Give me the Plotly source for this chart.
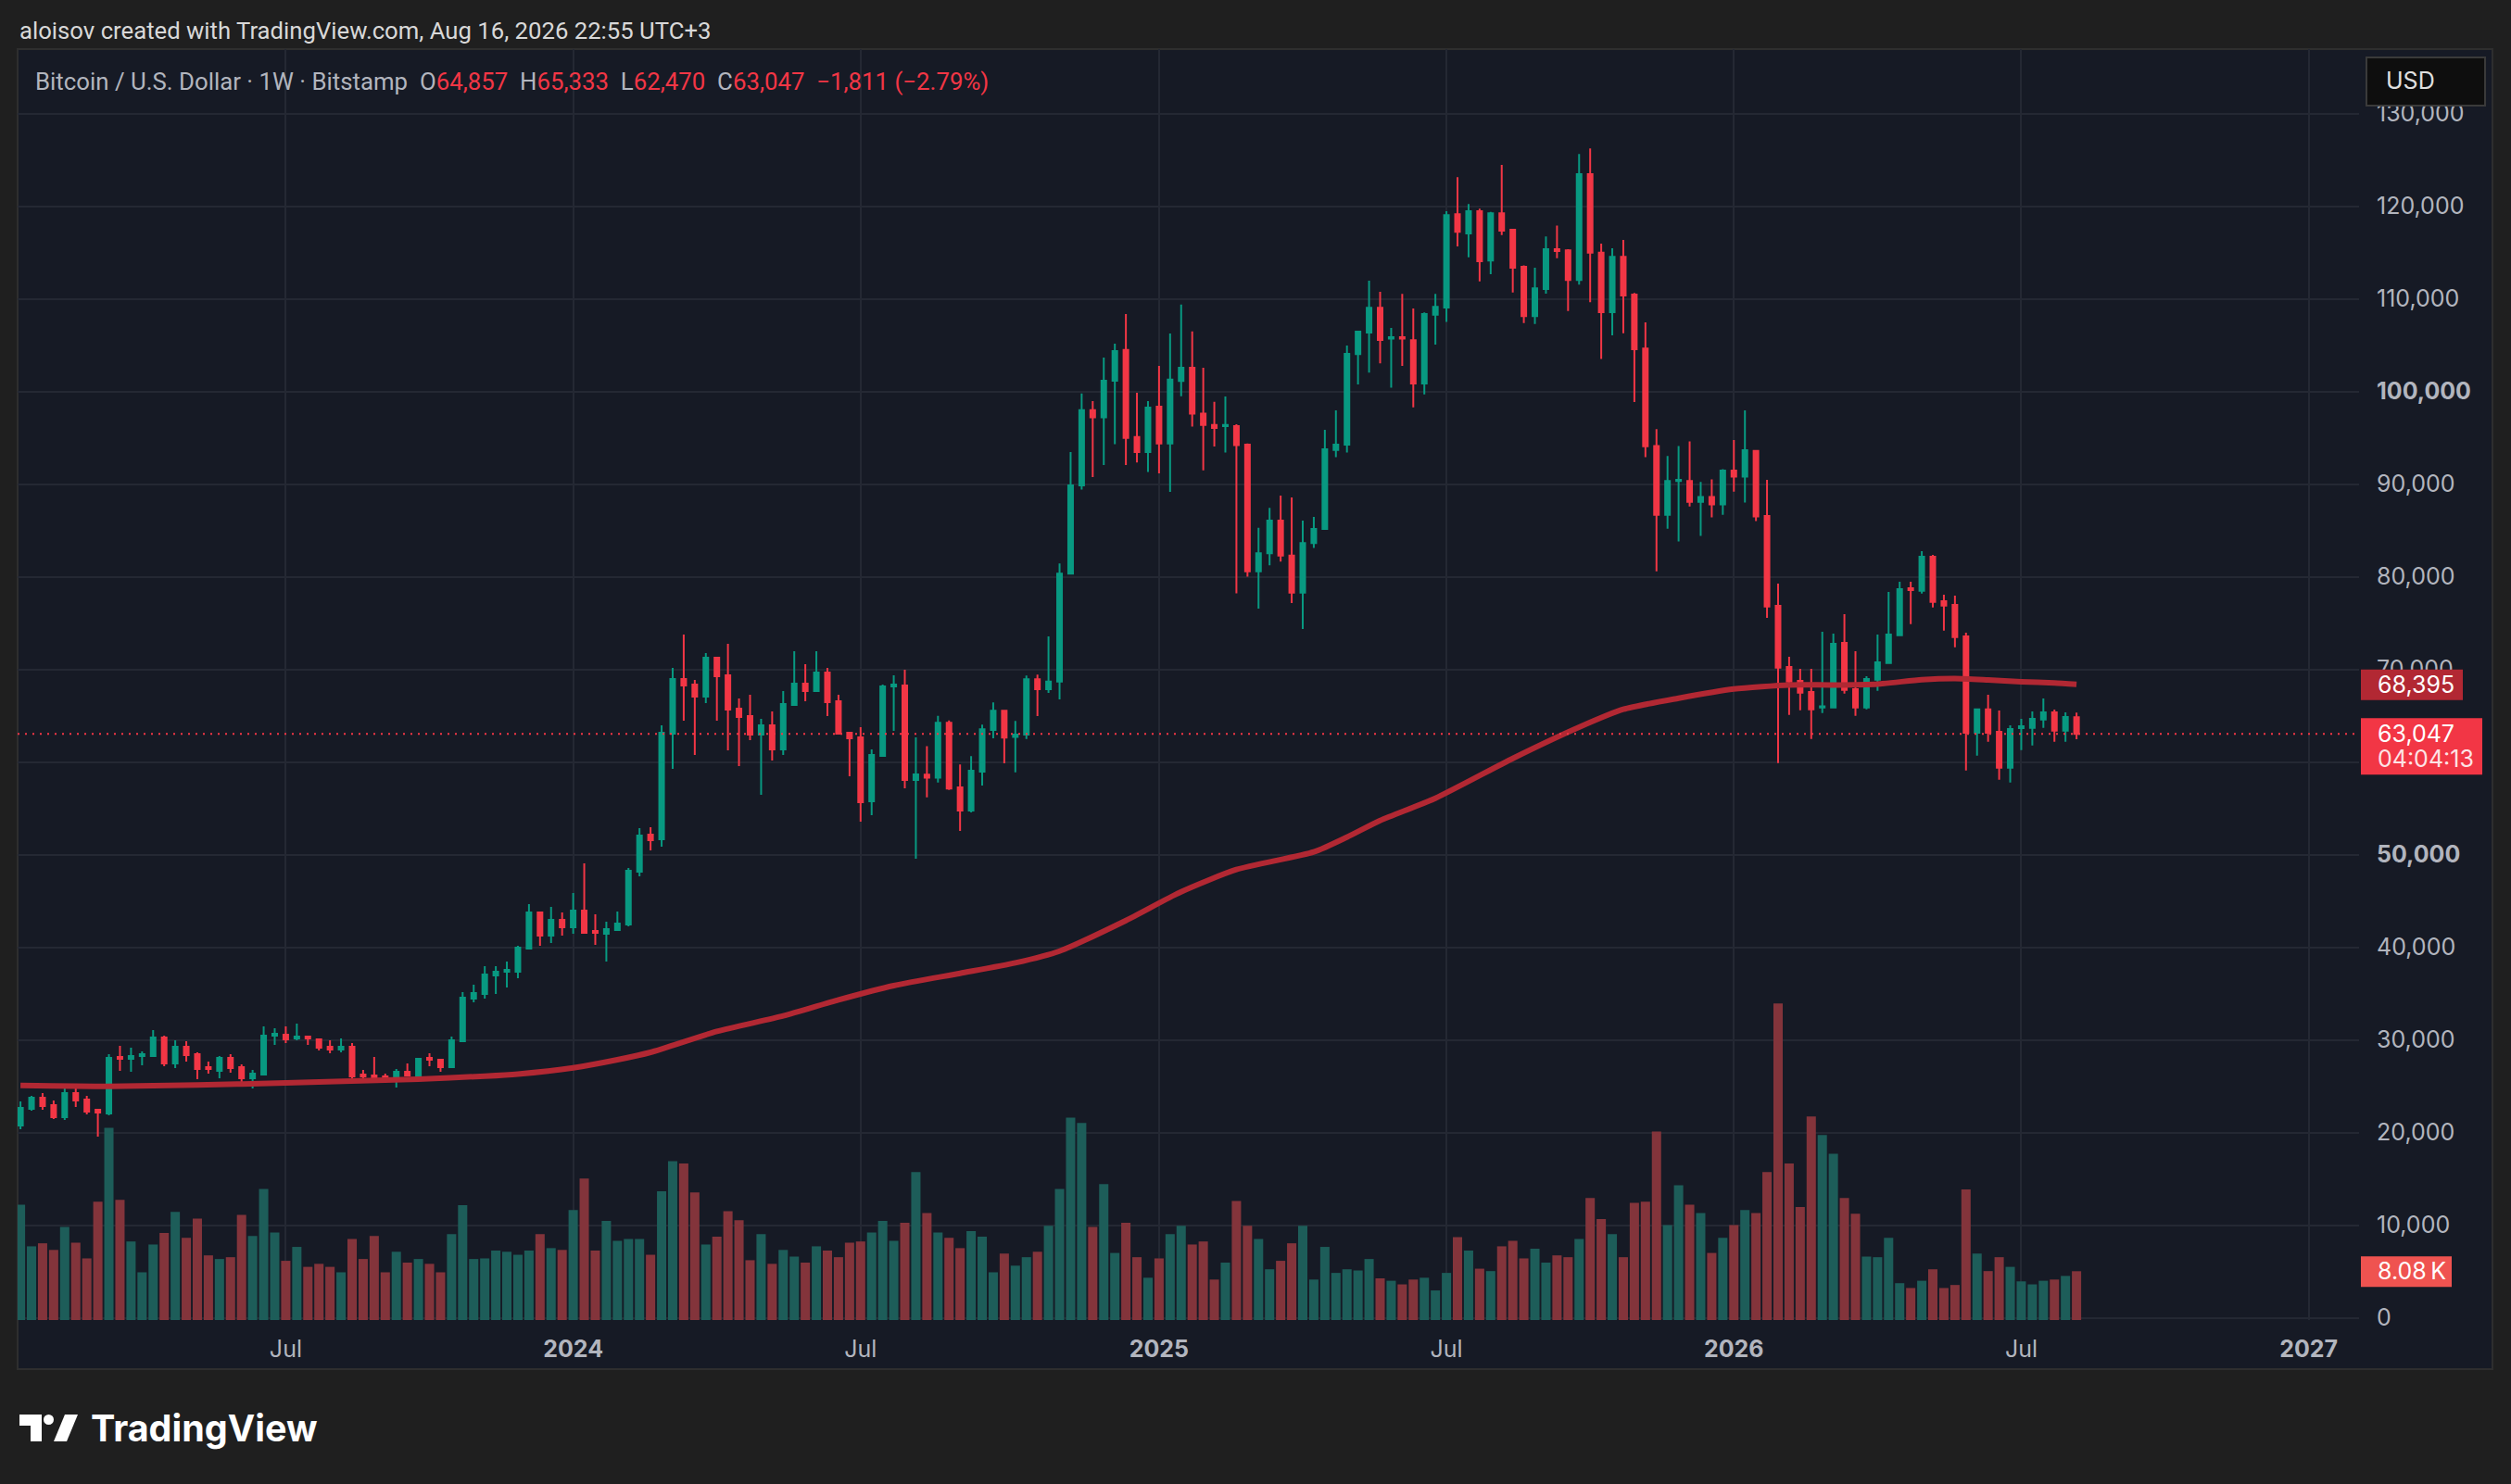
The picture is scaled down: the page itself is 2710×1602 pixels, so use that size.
import pandas as pd
import plotly.graph_objects as go

# Bitcoin / U.S. Dollar, weekly bars (Bitstamp), first bar = week of 2023-01-16
first_week = "2023-01-16"

opens = [
    20770, 22570, 23770, 22970, 21670, 24270, 23570, 22470, 22070, 28170,
    27970, 28270, 28270, 30270, 27470, 29270, 28470, 27070, 26670, 28070,
    27070, 25870, 26270, 30470, 30570, 30170, 30370, 30070, 29270, 28970,
    29270, 26270, 26170, 26070, 25770, 26570, 26070, 28070, 27870, 27070,
    29870, 34470, 34970, 36970, 37370, 37370, 39870, 43770, 41270, 42970,
    42170, 43970, 41770, 41470, 41870, 42470, 48170, 52170, 51670, 63070,
    68970, 68370, 67070, 71270, 69370, 65770, 64970, 62970, 63970, 61370,
    66170, 68470, 67670, 69670, 66570, 63170, 62670, 55770, 60670, 68170,
    68270, 58070, 58650, 58330, 64250, 57260, 54770, 58980, 63470, 65550,
    62730, 62980, 68950, 67880, 68700, 80340, 89860, 97990, 97210, 101180,
    104490, 95090, 93460, 98360, 94400, 101140, 102570, 97620, 96400, 96270,
    96270, 94270, 80590, 82550, 86060, 82300, 78300, 83650, 85160, 93700,
    94270, 104050, 106370, 109040, 105720, 105870, 105550, 100870, 108300, 109080,
    119140, 117070, 119460, 114150, 119250, 117470, 113470, 108150, 111080, 115360,
    115250, 112040, 123460, 115000, 108580, 114540, 110470, 104650, 94130, 86700,
    90340, 90340, 88100, 88630, 87810, 91480, 90810, 93590, 86570, 76870,
    70270, 68770, 67570, 65900, 65900, 72870, 67870, 65900, 68900, 70700,
    73700, 78770, 78500, 82170, 77370, 76970, 73570, 63170, 65700, 63270,
    59400, 63670, 63700, 64600, 65370, 63400, 64857,
]
highs = [
    23370, 23970, 24270, 23470, 25270, 25270, 23970, 22570, 28470, 29370,
    29170, 28770, 31070, 30470, 29970, 29870, 28670, 27670, 28270, 28470,
    27370, 26770, 31470, 31270, 31470, 31770, 30370, 30070, 29970, 30170,
    29670, 26770, 28170, 26370, 26870, 27470, 28070, 28570, 27970, 30370,
    35170, 35970, 37970, 37970, 38470, 40170, 44670, 43770, 44370, 43770,
    45870, 49070, 43570, 42770, 43870, 48570, 52870, 52970, 63970, 70170,
    73770, 68870, 71770, 71270, 72770, 66870, 67270, 64670, 65470, 67670,
    71970, 70570, 71970, 70170, 67270, 63270, 63770, 61370, 68370, 69370,
    69970, 62670, 61710, 65000, 64500, 59750, 60650, 64040, 66450, 65600,
    64450, 69350, 69440, 73560, 81450, 93460, 99790, 98970, 103670, 105180,
    108370, 99870, 98970, 102770, 106280, 109390, 106490, 102570, 98890, 99460,
    96480, 94400, 85290, 87450, 88760, 88560, 86060, 86470, 95870, 97980,
    104980, 106550, 111970, 110760, 106870, 110540, 108970, 108540, 110540, 119460,
    123140, 120250, 119750, 119400, 124460, 117540, 113610, 113360, 116750, 117930,
    115360, 125640, 126250, 115970, 115470, 116360, 110650, 107470, 95950, 93050,
    94130, 94630, 90240, 90520, 91630, 94770, 97980, 93590, 90470, 79270,
    71370, 70070, 70070, 74070, 73870, 75970, 71970, 69270, 73770, 78370,
    79470, 79470, 82770, 82370, 78070, 77970, 73970, 65800, 67270, 65570,
    63970, 64670, 65470, 66870, 65670, 65370, 65333,
]
lows = [
    20370, 22370, 22470, 21470, 21370, 22770, 21970, 19570, 21870, 26670,
    26570, 27270, 28170, 27170, 26970, 27670, 25770, 26370, 25870, 26470,
    25370, 24770, 26270, 29470, 29670, 29970, 29470, 28870, 28570, 28670,
    25570, 25370, 25370, 25370, 24870, 26170, 25970, 27170, 26570, 27070,
    29870, 34070, 34470, 34970, 35670, 36670, 39870, 40170, 40470, 41270,
    41470, 41470, 40270, 38470, 41770, 42270, 47670, 50470, 50870, 59270,
    64470, 60770, 66370, 64470, 61270, 59570, 62370, 56470, 60170, 60770,
    66070, 66570, 67570, 64970, 62970, 58470, 53570, 54270, 60670, 63370,
    57170, 49570, 56200, 57800, 57000, 52570, 54570, 57470, 62570, 59880,
    58900, 62490, 64980, 67480, 66780, 80340, 89410, 90760, 92070, 94310,
    92070, 92350, 91330, 91170, 89170, 99500, 96230, 91500, 94070, 93410,
    78220, 80020, 76580, 81240, 81650, 77160, 74380, 83120, 85160, 92930,
    93410, 100760, 102050, 103050, 100410, 102760, 98300, 99690, 105080, 107510,
    115680, 114500, 111900, 112680, 116900, 110690, 107400, 107290, 110580, 114400,
    108690, 111540, 109650, 103510, 106080, 106300, 98870, 92910, 80600, 85200,
    83810, 87600, 84420, 86420, 86700, 89200, 88020, 86020, 75570, 59900,
    65100, 65600, 62500, 65300, 65900, 67400, 65000, 65700, 67700, 70600,
    73700, 74900, 78200, 76700, 74200, 72400, 59100, 60700, 62200, 58100,
    57800, 61300, 61800, 63700, 62200, 62200, 62470,
]
closes = [
    22670, 23770, 22870, 21670, 24270, 23470, 22270, 22170, 28070, 27970,
    28270, 28470, 30270, 27470, 29270, 28370, 26870, 26870, 28070, 26970,
    25870, 26370, 30470, 30670, 30070, 30370, 30170, 29170, 28970, 29270,
    26070, 26070, 25970, 25940, 26570, 26170, 27970, 27870, 27070, 29970,
    34570, 35070, 37070, 37370, 37570, 39970, 43770, 41270, 42970, 42170,
    43970, 41570, 41570, 41970, 42570, 48270, 52070, 51570, 63170, 68970,
    68270, 67070, 71270, 69270, 65670, 64870, 62970, 63970, 61370, 66270,
    68470, 67670, 69670, 66470, 63070, 62570, 55670, 60770, 68170, 68370,
    58070, 58670, 58330, 64250, 57140, 54770, 59060, 63550, 65550, 62650,
    62980, 68950, 67880, 68700, 80340, 89860, 97990, 97210, 101180, 104360,
    95000, 93460, 98280, 94400, 101300, 102570, 97620, 96400, 96070, 96400,
    94230, 80590, 82550, 86060, 82300, 78300, 83650, 85160, 93780, 94270,
    104080, 106470, 109040, 105580, 105870, 105720, 100870, 108360, 109150, 119040,
    117250, 119460, 114080, 119250, 117360, 113360, 108150, 111150, 115360, 115180,
    112040, 123460, 115000, 108580, 114540, 110360, 104580, 94090, 86700, 90340,
    90480, 88100, 88630, 87810, 91480, 90810, 93660, 86520, 76800, 70200,
    68700, 67500, 65700, 66030, 72770, 67800, 65900, 68970, 70770, 73770,
    78670, 78570, 82170, 77300, 76900, 73500, 63170, 65700, 63170, 59400,
    63570, 63870, 64670, 65370, 63400, 64858, 63047,
]
# volume, thousands of BTC
volumes_k = [
    19.1, 12.2, 12.7, 11.6, 15.4, 12.8, 10.2, 19.6, 31.8, 19.9,
    13.0, 7.9, 12.5, 14.4, 17.9, 13.6, 16.8, 10.7, 10.1, 10.4,
    17.4, 13.9, 21.7, 14.5, 9.8, 12.1, 8.8, 9.3, 8.8, 7.9,
    13.4, 10.1, 13.9, 7.9, 11.3, 9.5, 10.1, 9.3, 7.9, 14.2,
    19.0, 10.1, 10.2, 11.5, 11.3, 10.8, 11.5, 14.2, 11.9, 11.6,
    18.2, 23.4, 11.5, 16.4, 13.1, 13.4, 13.4, 10.8, 21.3, 26.3,
    25.9, 21.1, 12.5, 13.8, 18.0, 16.5, 9.9, 14.2, 9.3, 11.6,
    10.5, 9.5, 12.2, 11.5, 10.4, 12.8, 13.0, 14.5, 16.4, 13.1,
    16.1, 24.5, 17.7, 14.5, 13.6, 11.9, 14.7, 13.8, 7.9, 11.0,
    9.0, 10.4, 11.3, 15.6, 21.7, 33.5, 32.6, 15.4, 22.5, 11.1,
    16.1, 10.4, 7.0, 10.2, 14.2, 15.6, 12.5, 13.0, 6.7, 9.5,
    19.7, 15.6, 13.4, 8.4, 9.8, 12.7, 15.6, 6.7, 12.1, 7.8,
    8.4, 8.2, 10.1, 6.9, 6.5, 5.9, 6.7, 7.0, 4.9, 7.8,
    13.7, 11.5, 8.5, 8.1, 12.2, 13.1, 10.2, 11.8, 9.5, 10.7,
    10.4, 13.4, 20.2, 16.7, 14.2, 10.4, 19.4, 19.6, 31.2, 15.7,
    22.3, 19.1, 17.7, 11.1, 13.6, 15.7, 18.2, 17.7, 24.5, 52.4,
    25.9, 18.7, 33.7, 30.6, 27.5, 20.2, 17.6, 10.5, 10.4, 13.6,
    6.1, 5.3, 6.5, 8.4, 5.3, 5.8, 21.6, 11.0, 8.1, 10.4,
    8.8, 6.4, 5.9, 6.5, 6.7, 7.3, 8.08,
]

# 200-week moving average at some of the weeks (bar number)
ma_week = [0, 8, 16, 24, 36, 42, 45, 50, 54, 57, 63, 69, 74, 79, 85, 90, 94,
           100, 105, 110, 117, 120, 123, 128, 135, 141, 145, 150, 155, 160,
           164, 168, 172, 175, 178, 181, 184, 186]
ma_value = [25100, 25000, 25150, 25370, 25770, 26100, 26330, 27000, 27870,
            28670, 30930, 32600, 34330, 35870, 37200, 38330, 39600, 42900,
            46000, 48400, 50300, 51900, 53700, 56100, 60400, 63770, 65700,
            66900, 67900, 68330, 68330, 68430, 68900, 69030, 68870, 68670,
            68550, 68395]

time_ticks = ["2023-07-03", "2024-01-01", "2024-07-01", "2025-01-06",
              "2025-07-07", "2026-01-05", "2026-07-06", "2027-01-04"]
time_labels = ["Jul", "<b>2024</b>", "Jul", "<b>2025</b>", "Jul",
               "<b>2026</b>", "Jul", "<b>2027</b>"]
price_ticks = [0, 10000, 20000, 30000, 40000, 50000, 60000, 70000, 80000,
               90000, 100000, 110000, 120000, 130000]
# 60,000 sits fully under the last-price tag, so it shows no label
price_labels = ["0", "10,000", "20,000", "30,000", "40,000", "<b>50,000</b>",
                "", "70,000", "80,000", "90,000", "<b>100,000</b>",
                "110,000", "120,000", "130,000"]

title_text = "aloisov created with TradingView.com, Aug 16, 2026 22:55 UTC+3"
pair_text = "Bitcoin / U.S. Dollar · 1W · Bitstamp"
countdown = "04:04:13"

GREEN = "#089981"
RED = "#f23645"
VOL_GREEN = "#1d5d59"
VOL_RED = "#83343b"
MA_COLOR = "#b22833"
BG = "#161a25"
GRID = "#242833"
AXIS_TXT = "#b2b5be"

W, H = 2710, 1602
PL, PR, PT, PB = 19, 2546, 53, 1425   # plot area in pixels
P_MIN, P_MAX = -230, 136970
VOL_MAX = 210.3

weeks = pd.date_range(first_week, periods=len(closes), freq="7D")
start = pd.Timestamp(first_week)
x_left = start - pd.Timedelta(days=1.82)
x_right = start + pd.Timedelta(days=1480.9)


def px(x):
    return (x - PL) / (PR - PL)


def py(y):
    return (PB - y) / (PB - PT)


def price_pix(p):
    return PB - (p - P_MIN) / (P_MAX - P_MIN) * (PB - PT)


def fmt(v):
    return f"{v:,.0f}".replace("-", "\u2212")


fig = go.Figure()

vol_colors = [VOL_GREEN if c >= o else VOL_RED for o, c in zip(opens, closes)]
fig.add_trace(go.Bar(
    x=weeks, y=volumes_k, yaxis="y",
    marker=dict(color=vol_colors, line=dict(width=0)),
    width=7 * 86400000 * 0.84,
    hoverinfo="skip",
))

fig.add_trace(go.Scatter(
    x=[weeks[i] for i in ma_week], y=ma_value, yaxis="y2",
    mode="lines",
    line=dict(color=MA_COLOR, width=6, shape="spline", smoothing=0.6),
    hoverinfo="skip",
))

fig.add_trace(go.Candlestick(
    x=weeks, open=opens, high=highs, low=lows, close=closes, yaxis="y2",
    increasing=dict(line=dict(color=GREEN, width=2), fillcolor=GREEN),
    decreasing=dict(line=dict(color=RED, width=2), fillcolor=RED),
    whiskerwidth=0,
))

shapes = []
annotations = []

# panel background and border
shapes.append(dict(type="rect", xref="paper", yref="paper", layer="below",
                   x0=px(19), x1=px(2690), y0=py(1478), y1=py(53),
                   fillcolor=BG, line=dict(color="#2e2e2e", width=2)))

# last price dotted line
shapes.append(dict(type="line", xref="paper", yref="y2", layer="above",
                   x0=0, x1=1, y0=closes[-1], y1=closes[-1],
                   line=dict(color=RED, width=2, dash="2px,6px")))

# right scale labels
ma_y = price_pix(ma_value[-1])
shapes.append(dict(type="rect", xref="paper", yref="paper", layer="above",
                   x0=px(2548), x1=px(2658), y0=py(ma_y + 17), y1=py(ma_y - 16),
                   fillcolor=MA_COLOR, line=dict(width=0)))
annotations.append(dict(xref="paper", yref="paper", x=px(2564), y=py(ma_y),
                        text=fmt(ma_value[-1]), showarrow=False, xanchor="left",
                        yanchor="middle", font=dict(family="Inter", size=25, color="#ffffff")))

c_y = price_pix(closes[-1])
shapes.append(dict(type="rect", xref="paper", yref="paper", layer="above",
                   x0=px(2548), x1=px(2679), y0=py(c_y + 44), y1=py(c_y - 17),
                   fillcolor=RED, line=dict(width=0)))
annotations.append(dict(xref="paper", yref="paper", x=px(2564), y=py(c_y),
                        text=fmt(closes[-1]), showarrow=False, xanchor="left",
                        yanchor="middle", font=dict(family="Inter", size=25, color="#ffffff")))
annotations.append(dict(xref="paper", yref="paper", x=px(2564), y=py(c_y + 27),
                        text=countdown, showarrow=False, xanchor="left",
                        yanchor="middle", font=dict(family="Inter", size=25, color="#fde3e5")))

v_y = PB - volumes_k[-1] / VOL_MAX * (PB - PT)
shapes.append(dict(type="rect", xref="paper", yref="paper", layer="above",
                   x0=px(2548), x1=px(2646), y0=py(v_y + 17), y1=py(v_y - 16),
                   fillcolor="#ef5350", line=dict(width=0)))
annotations.append(dict(xref="paper", yref="paper", x=px(2564), y=py(v_y),
                        text=f"{volumes_k[-1]:.2f}\u2009K", showarrow=False, xanchor="left",
                        yanchor="middle", font=dict(family="Inter", size=25, color="#ffffff")))

# USD button
shapes.append(dict(type="rect", xref="paper", yref="paper", layer="above",
                   x0=px(2554), x1=px(2682), y0=py(114), y1=py(62),
                   fillcolor="#0e0e0e", line=dict(color="#3a3a3a", width=2)))
annotations.append(dict(xref="paper", yref="paper", x=px(2573), y=py(87),
                        text="USD", showarrow=False, xanchor="left", yanchor="middle",
                        font=dict(family="Inter", size=25, color="#e0e0e0")))

# header texts
annotations.append(dict(xref="paper", yref="paper", x=px(19), y=py(33),
                        text=title_text, showarrow=False, xanchor="left", yanchor="middle",
                        font=dict(family="Roboto", size=25.7, color="#d8d8d8")))

chg = closes[-1] - closes[-2]
pct = chg / closes[-2] * 100
sp = "\u00a0\u00a0"


def red(t):
    return f"<span style='color:{RED}'>{t}</span>"


legend_text = (pair_text + sp + "O" + red(fmt(opens[-1])) + sp + "H" + red(fmt(highs[-1]))
               + sp + "L" + red(fmt(lows[-1])) + sp + "C" + red(fmt(closes[-1])) + sp
               + red(f"{fmt(chg)} ({f'{pct:.2f}'.replace('-', chr(0x2212))}%)"))
annotations.append(dict(xref="paper", yref="paper", x=px(36), y=py(88),
                        text=legend_text, showarrow=False, xanchor="left", yanchor="middle",
                        font=dict(family="Roboto", size=25.8, color=AXIS_TXT)))

# TradingView logo
shapes.append(dict(type="rect", xref="paper", yref="paper", layer="above",
                   x0=px(21), x1=px(45), y0=py(1539), y1=py(1527),
                   fillcolor="#ffffff", line=dict(width=0)))
shapes.append(dict(type="rect", xref="paper", yref="paper", layer="above",
                   x0=px(33), x1=px(45), y0=py(1556), y1=py(1527),
                   fillcolor="#ffffff", line=dict(width=0)))
shapes.append(dict(type="circle", xref="paper", yref="paper", layer="above",
                   x0=px(47), x1=px(58), y0=py(1538), y1=py(1527),
                   fillcolor="#ffffff", line=dict(width=0)))
shapes.append(dict(type="path", xref="paper", yref="paper", layer="above",
                   path=(f"M {px(70)},{py(1527)} L {px(84)},{py(1527)} "
                         f"L {px(72)},{py(1556)} L {px(58)},{py(1556)} Z"),
                   fillcolor="#ffffff", line=dict(width=0)))
annotations.append(dict(xref="paper", yref="paper", x=px(96), y=py(1542),
                        text="<b>TradingView</b>", showarrow=False, xanchor="left",
                        yanchor="middle", font=dict(family="Inter", size=39.5, color="#ffffff")))

fig.update_layout(
    width=W, height=H,
    margin=dict(l=PL, r=W - PR, t=PT, b=H - PB),
    paper_bgcolor="#1f1f1f", plot_bgcolor=BG,
    showlegend=False,
    boxgap=0.4,
    xaxis=dict(
        type="date", range=[x_left, x_right], rangeslider=dict(visible=False),
        tickmode="array", tickvals=time_ticks, ticktext=time_labels,
        showgrid=True, gridcolor=GRID, gridwidth=2, zeroline=False, showline=False,
        ticks="", ticklabelstandoff=14,
        tickfont=dict(family="Inter", size=25, color=AXIS_TXT),
    ),
    yaxis=dict(range=[0, VOL_MAX], visible=False, showgrid=False, fixedrange=True),
    yaxis2=dict(
        overlaying="y", side="right", anchor="x", range=[P_MIN, P_MAX],
        tickmode="array", tickvals=price_ticks, ticktext=price_labels,
        showgrid=True, gridcolor=GRID, gridwidth=2, zeroline=False, showline=False,
        ticks="", ticklabelstandoff=18,
        tickfont=dict(family="Inter", size=25, color=AXIS_TXT),
    ),
    shapes=shapes,
    annotations=annotations,
)

# drop the browser's default page margin so the figure fills the window
fig.write_html("out.html",
               config={"displayModeBar": False},
               post_script="document.body.style.margin='0';"
                           "document.body.style.background='#1f1f1f';")
